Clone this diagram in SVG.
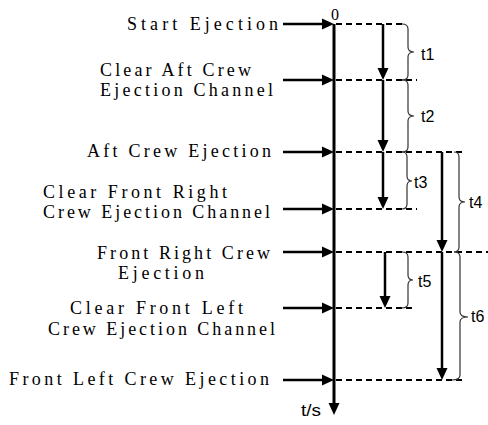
<svg xmlns="http://www.w3.org/2000/svg" width="488" height="425" viewBox="0 0 488 425">
<style>
.lbl{font-family:"Liberation Serif","Times New Roman",serif;font-size:18px;fill:#000}
.tl{font-family:"Liberation Sans",Arial,sans-serif;font-size:16px;fill:#000}
.in{stroke:#000;stroke-width:2.5;fill:none;marker-end:url(#ah)}
.ax{stroke:#000;stroke-width:3;fill:none;marker-end:url(#ah)}
.va{stroke:#000;stroke-width:2.5;fill:none;marker-end:url(#ah)}
.dash{stroke:#000;stroke-width:2;stroke-dasharray:6,4;fill:none}
.br{stroke:#333;stroke-width:1.2;fill:none}
</style>
<defs>
<marker id="ah" viewBox="0 0 12 12" refX="4" refY="6" markerWidth="12" markerHeight="12" markerUnits="userSpaceOnUse" orient="auto">
<path d="M0,0.5 L12,6 L0,11.5 z" fill="#000"/>
</marker>
</defs>
<rect width="488" height="425" fill="#fff"/>

<g id="axis">
<line class="ax" x1="334" y1="24" x2="334" y2="407"/>
<text x="331" y="20" font-family="Liberation Serif,serif" font-size="16" textLength="8" lengthAdjust="spacingAndGlyphs">0</text>
<text class="tl" x="301" y="416" textLength="20" lengthAdjust="spacingAndGlyphs">t/s</text>
</g>

<g id="connectors">
<line class="dash" x1="336" y1="24" x2="403" y2="24"/>
<line class="dash" x1="336" y1="80" x2="417" y2="80"/>
<line class="dash" x1="336" y1="152" x2="463" y2="152"/>
<line class="dash" x1="336" y1="209" x2="417" y2="209"/>
<line class="dash" x1="336" y1="252" x2="488" y2="252"/>
<line class="dash" x1="336" y1="308" x2="415" y2="308"/>
<line class="dash" x1="336" y1="380" x2="462" y2="380"/>

<line class="va" x1="383" y1="24" x2="383" y2="72"/>
<line class="va" x1="383" y1="80" x2="383" y2="144"/>
<line class="va" x1="383" y1="152" x2="383" y2="201"/>
<line class="va" x1="442" y1="152" x2="442" y2="244"/>
<line class="va" x1="442" y1="252" x2="442" y2="372"/>
<line class="va" x1="385" y1="252" x2="385" y2="300"/>

<path class="br" d="M402,24 Q408,24 408,29 L408,47 Q408,52 414,52 M414,52 Q408,52 408,57 L408,75 Q408,80 402,80"/>
<path class="br" d="M402,80 Q408,80 408,85 L408,111 Q408,116 414,116 M414,116 Q408,116 408,121 L408,147 Q408,152 402,152"/>
<path class="br" d="M402,152 Q407,152 407,157 L407,176 Q407,181 412,181 M412,181 Q407,181 407,186 L407,204 Q407,209 402,209"/>
<path class="br" d="M454,152 Q459,152 459,157 L459,197 Q459,202 465,202 M465,202 Q459,202 459,207 L459,247 Q459,252 454,252"/>
<path class="br" d="M402,252 Q408,252 408,257 L408,275 Q408,280 413,280 M413,280 Q408,280 408,285 L408,303 Q408,308 402,308"/>
<path class="br" d="M454,252 Q460,252 460,257 L460,312 Q460,317 468,317 M468,317 Q460,317 460,322 L460,375 Q460,380 452,380"/>

<text class="tl" x="421" y="60">t1</text>
<text class="tl" x="421" y="122">t2</text>
<text class="tl" x="414" y="188">t3</text>
<text class="tl" x="469" y="208">t4</text>
<text class="tl" x="418" y="287">t5</text>
<text class="tl" x="471" y="322">t6</text>
</g>

<g id="start-ejection">
<text class="lbl" x="127" y="30" textLength="151" lengthAdjust="spacing">Start Ejection</text>
<line class="in" x1="283" y1="24" x2="326" y2="24"/>
</g>
<g id="clear-aft">
<text class="lbl" x="100" y="76" textLength="151" lengthAdjust="spacing">Clear Aft Crew</text>
<text class="lbl" x="100" y="96" textLength="173" lengthAdjust="spacing">Ejection Channel</text>
<line class="in" x1="283" y1="80" x2="326" y2="80"/>
</g>
<g id="aft-ejection">
<text class="lbl" x="87" y="157" textLength="184" lengthAdjust="spacing">Aft Crew Ejection</text>
<line class="in" x1="283" y1="152" x2="326" y2="152"/>
</g>
<g id="clear-front-right">
<text class="lbl" x="43" y="198" textLength="184" lengthAdjust="spacing">Clear Front Right</text>
<text class="lbl" x="43" y="218" textLength="227" lengthAdjust="spacing">Crew Ejection Channel</text>
<line class="in" x1="283" y1="209" x2="326" y2="209"/>
</g>
<g id="front-right-ejection">
<text class="lbl" x="97" y="259" textLength="173" lengthAdjust="spacing">Front Right Crew</text>
<text class="lbl" x="118" y="279" textLength="86" lengthAdjust="spacing">Ejection</text>
<line class="in" x1="283" y1="252" x2="326" y2="252"/>
</g>
<g id="clear-front-left">
<text class="lbl" x="70" y="314" textLength="173" lengthAdjust="spacing">Clear Front Left</text>
<text class="lbl" x="48" y="335" textLength="227" lengthAdjust="spacing">Crew Ejection Channel</text>
<line class="in" x1="283" y1="308" x2="326" y2="308"/>
</g>
<g id="front-left-ejection">
<text class="lbl" x="9" y="385" textLength="260" lengthAdjust="spacing">Front Left Crew Ejection</text>
<line class="in" x1="283" y1="380" x2="326" y2="380"/>
</g>
</svg>
